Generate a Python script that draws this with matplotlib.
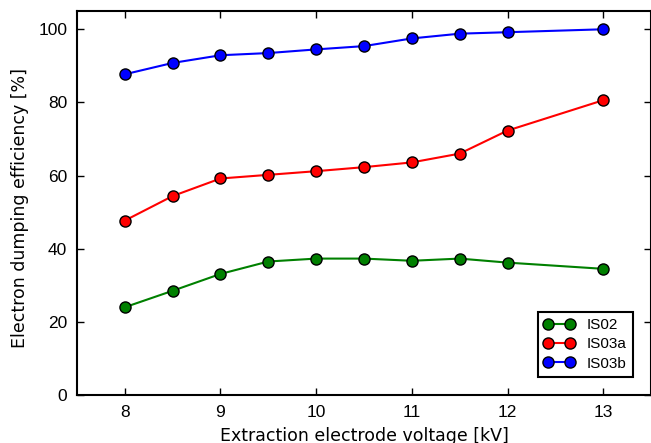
import matplotlib
matplotlib.use("Agg")
import matplotlib.pyplot as plt

voltage = [8, 8.5, 9, 9.5, 10, 10.5, 11, 11.5, 12, 13]
is02 = [24.0, 28.5, 33.1, 36.5, 37.3, 37.3, 36.7, 37.3, 36.2, 34.5]
is03a = [47.7, 54.4, 59.2, 60.2, 61.2, 62.3, 63.6, 66.0, 72.3, 80.6]
is03b = [87.7, 90.8, 92.9, 93.5, 94.5, 95.4, 97.5, 98.8, 99.2, 100.0]
labels = ["IS02", "IS03a", "IS03b"]
colors = ["#008000", "#ff0000", "#0000ff"]

plt.rcParams['font.family'] = ['Liberation Sans', 'DejaVu Sans']

fig = plt.figure(figsize=(6.51, 4.43), dpi=100)
ax = fig.add_axes([77/651, 1-395/443, (651-77)/651, (395-11)/443])

for ys, lab, c in zip([is02, is03a, is03b], labels, colors):
    ax.plot(voltage, ys, '-o', color=c, markerfacecolor=c, markeredgecolor='black',
            markeredgewidth=1.0, markersize=8, linewidth=1.5, label=lab)

ax.set_xlim(7.5, 13.5)
ax.set_ylim(0, 105)
ax.set_xticks([8, 9, 10, 11, 12, 13])
ax.set_yticks([0, 20, 40, 60, 80, 100])
ax.tick_params(direction='in', top=True, right=True, length=5, width=1, labelsize=12.5, pad=7)
for s in ax.spines.values():
    s.set_linewidth(1.5)
ax.set_xlabel("Extraction electrode voltage [kV]", fontsize=12.5, labelpad=5,
              family=['DejaVu Sans'])
ax.set_ylabel("Electron dumping efficiency [%]", fontsize=12.5, labelpad=7,
              family=['DejaVu Sans'])
ax.yaxis.set_label_coords(-0.084, 0.488)

leg = ax.legend(loc='lower right', numpoints=2, fontsize=11, fancybox=False,
                framealpha=1, edgecolor='black', borderaxespad=1.2, handlelength=2.0,
                labelspacing=0.35)
leg.get_frame().set_linewidth(1.5)

fig.savefig("out.png", dpi=100)
